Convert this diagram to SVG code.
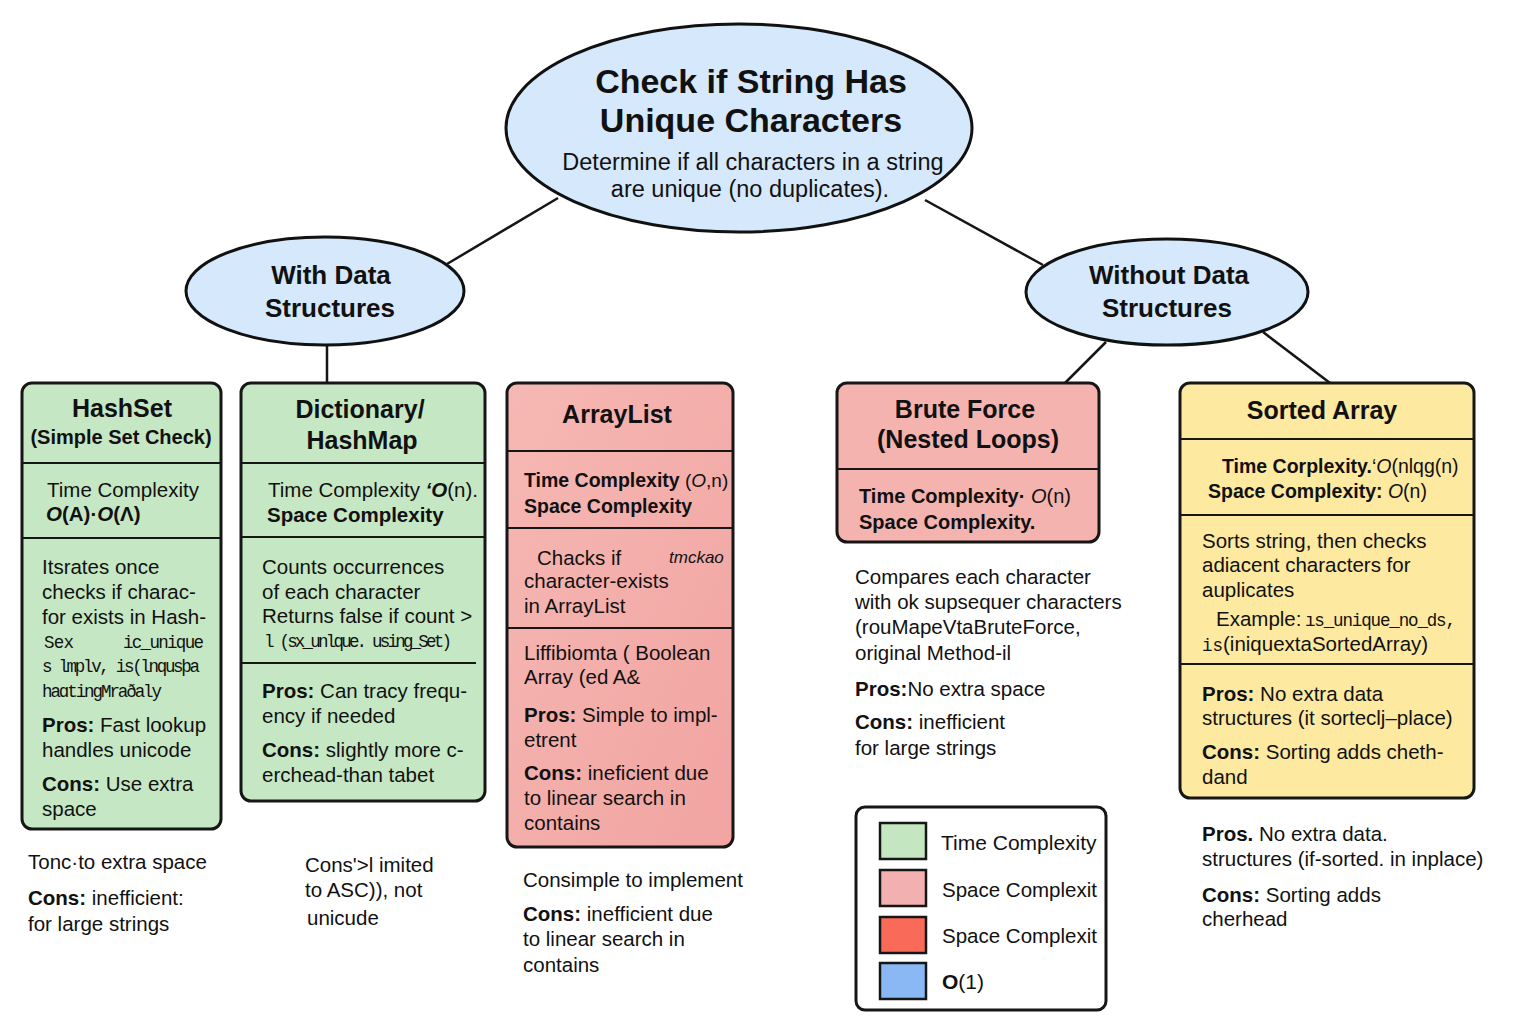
<svg xmlns="http://www.w3.org/2000/svg" width="1536" height="1024" viewBox="0 0 1536 1024">
<style>
text{font-family:"Liberation Sans",Arial,sans-serif;fill:#111;}
.t{font-size:20.5px}
.b{font-weight:bold}
.i{font-style:italic}
.m{font-family:"Liberation Mono","DejaVu Sans Mono",monospace;font-size:17.5px}
.h{font-size:25px;font-weight:bold;text-anchor:middle}
.box{stroke:#161616;stroke-width:3}
.dv{stroke:#161616;stroke-width:2}
.ell{fill:#d6e8fb;stroke:#111;stroke-width:3}
.con line{stroke:#161616;stroke-width:2.5}
.sw{stroke:#161616;stroke-width:2.5}
</style>
<defs>
<linearGradient id="pk" x1="0" y1="0" x2="1" y2="1">
<stop offset="0" stop-color="#f6b8b4"/>
<stop offset="1" stop-color="#f1a4a1"/>
</linearGradient>
</defs>
<rect width="1536" height="1024" fill="#ffffff"/>

<g id="connectors" class="con">
<line x1="558" y1="198" x2="447" y2="264"/>
<line x1="925" y1="200" x2="1043" y2="265"/>
<line x1="327" y1="345" x2="327" y2="383"/>
<line x1="1106" y1="342" x2="1065" y2="383"/>
<line x1="1263" y1="332" x2="1330" y2="383"/>
</g>

<g id="root">
<ellipse class="ell" cx="739" cy="128" rx="233" ry="104"/>
<text x="751" y="93" font-size="34" class="b" text-anchor="middle">Check if String Has</text>
<text x="751" y="132" font-size="34" class="b" text-anchor="middle">Unique Characters</text>
<text x="753" y="170" font-size="23.5" text-anchor="middle">Determine if all characters in a string</text>
<text x="750" y="197" font-size="23.5" text-anchor="middle">are unique (no duplicates).</text>
</g>

<g id="with-ds">
<ellipse class="ell" cx="325" cy="291" rx="139" ry="54"/>
<text x="331" y="284" font-size="26" class="b" text-anchor="middle">With Data</text>
<text x="330" y="317" font-size="26" class="b" text-anchor="middle">Structures</text>
</g>

<g id="without-ds">
<ellipse class="ell" cx="1167" cy="292" rx="141" ry="53"/>
<text x="1169" y="284" font-size="26" class="b" text-anchor="middle">Without Data</text>
<text x="1167" y="317" font-size="26" class="b" text-anchor="middle">Structures</text>
</g>

<g id="hashset">
<rect class="box" x="22" y="383" width="199" height="446" rx="10" fill="#c6e7c3"/>
<line class="dv" x1="23" y1="463" x2="220" y2="463"/>
<line class="dv" x1="23" y1="538" x2="220" y2="538"/>
<text x="122" y="417" class="h">HashSet</text>
<text x="121" y="444" font-size="20" class="b" text-anchor="middle">(Simple Set Check)</text>
<text x="47" y="497" class="t">Time Complexity</text>
<text x="46" y="521" class="t b"><tspan class="i">O</tspan>(A)·<tspan class="i">O</tspan>(Λ)</text>
<text x="42" y="574" class="t">Itsrates once</text>
<text x="42" y="599" class="t">checks if charac-</text>
<text x="42" y="624" class="t">for exists in Hash-</text>
<text x="44" y="648" class="m" textLength="30">Sex</text>
<text x="123" y="648" class="m" textLength="81">ic_unique</text>
<text x="42" y="672" class="m" textLength="158">s lmplv, is(lnqusþa</text>
<text x="42" y="697" class="m" textLength="120">haɑtingMraðaly</text>
<text x="42" y="732" class="t"><tspan class="b">Pros:</tspan> Fast lookup</text>
<text x="42" y="757" class="t">handles unicode</text>
<text x="42" y="791" class="t"><tspan class="b">Cons:</tspan> Use extra</text>
<text x="42" y="816" class="t">space</text>
</g>

<g id="dictionary">
<rect class="box" x="241" y="383" width="244" height="418" rx="10" fill="#c6e7c3"/>
<line class="dv" x1="242" y1="463" x2="484" y2="463"/>
<line class="dv" x1="242" y1="537" x2="484" y2="537"/>
<line class="dv" x1="242" y1="663" x2="476" y2="663"/>
<text x="360" y="418" class="h">Dictionary/</text>
<text x="362" y="449" class="h">HashMap</text>
<text x="268" y="497" class="t">Time Complexity <tspan class="b i">‘O</tspan>(n).</text>
<text x="267" y="522" class="t b" font-size="20">Space Complexity</text>
<text x="262" y="574" class="t">Counts occurrences</text>
<text x="262" y="599" class="t">of each character</text>
<text x="262" y="623" class="t">Returns false if count &gt;</text>
<text x="264" y="647" class="m" textLength="188">l (sx_unlque. using_Set)</text>
<text x="262" y="698" class="t"><tspan class="b">Pros:</tspan> Can tracy frequ-</text>
<text x="262" y="723" class="t">ency if needed</text>
<text x="262" y="757" class="t"><tspan class="b">Cons:</tspan> slightly more c-</text>
<text x="262" y="782" class="t">erchead-than tabet</text>
</g>

<g id="arraylist">
<rect class="box" x="507" y="383" width="226" height="464" rx="10" fill="url(#pk)"/>
<line class="dv" x1="508" y1="451" x2="732" y2="451"/>
<line class="dv" x1="508" y1="528" x2="732" y2="528"/>
<line class="dv" x1="508" y1="628" x2="732" y2="628"/>
<text x="617" y="423" class="h">ArrayList</text>
<text x="524" y="487" class="b" font-size="19.5">Time Complexity<tspan font-weight="normal" font-size="19"> (<tspan class="i">O</tspan>,n)</tspan></text>
<text x="524" y="513" class="b" font-size="19.5">Space Complexity</text>
<text x="537" y="565" class="t">Chacks if</text>
<text x="669" y="563" font-size="17" class="i">tmckao</text>
<text x="524" y="588" class="t">character-exists</text>
<text x="524" y="613" class="t">in ArrayList</text>
<text x="524" y="660" class="t">Liffibiomta ( Boolean</text>
<text x="524" y="684" class="t">Array (ed A&amp;</text>
<text x="524" y="722" class="t"><tspan class="b">Pros:</tspan> Simple to impl-</text>
<text x="524" y="747" class="t">etrent</text>
<text x="524" y="780" class="t"><tspan class="b">Cons:</tspan> ineficient due</text>
<text x="524" y="805" class="t">to linear search in</text>
<text x="524" y="830" class="t">contains</text>
</g>

<g id="brute-force">
<rect class="box" x="837" y="383" width="262" height="159" rx="10" fill="#f4b3ae"/>
<line class="dv" x1="838" y1="469" x2="1098" y2="469"/>
<text x="965" y="418" class="h">Brute Force</text>
<text x="968" y="448" class="h">(Nested Loops)</text>
<text x="859" y="503" class="b" font-size="20">Time Complexity· <tspan font-weight="normal"><tspan class="i">O</tspan>(n)</tspan></text>
<text x="859" y="529" class="b" font-size="20">Space Complexity.</text>
<text x="855" y="584" class="t">Compares each character</text>
<text x="855" y="609" class="t">with ok supsequer characters</text>
<text x="855" y="634" class="t">(rouMapeVtaBruteForce,</text>
<text x="855" y="660" class="t">original Method-il</text>
<text x="855" y="696" class="t"><tspan class="b">Pros:</tspan>No extra space</text>
<text x="855" y="729" class="t"><tspan class="b">Cons:</tspan> inefficient</text>
<text x="855" y="755" class="t">for large strings</text>
</g>

<g id="sorted-array">
<rect class="box" x="1180" y="383" width="294" height="415" rx="10" fill="#fde9a0"/>
<line class="dv" x1="1181" y1="439" x2="1473" y2="439"/>
<line class="dv" x1="1181" y1="515" x2="1473" y2="515"/>
<line class="dv" x1="1181" y1="664" x2="1473" y2="664"/>
<text x="1322" y="419" class="h">Sorted Array</text>
<text x="1222" y="473" class="b" font-size="19.5">Time Corplexity.<tspan font-weight="normal">‘<tspan class="i">O</tspan>(nlqg(n)</tspan></text>
<text x="1208" y="498" class="b" font-size="19.5">Space Complexity: <tspan font-weight="normal"><tspan class="i">O</tspan>(n)</tspan></text>
<text x="1202" y="548" class="t">Sorts string, then checks</text>
<text x="1202" y="572" class="t">adiacent characters for</text>
<text x="1202" y="597" class="t">auplicates</text>
<text x="1216" y="626" class="t">Example:</text>
<text x="1305" y="626" class="m" font-size="18" textLength="151">ıs_unique_no_ds,</text>
<text x="1202" y="651" class="t"><tspan class="m" font-size="18">is</tspan>(iniquextaSortedArray)</text>
<text x="1202" y="701" class="t"><tspan class="b">Pros:</tspan> No extra data</text>
<text x="1202" y="725" class="t">structures (it sorteclj–place)</text>
<text x="1202" y="759" class="t"><tspan class="b">Cons:</tspan> Sorting adds cheth-</text>
<text x="1202" y="784" class="t">dand</text>
</g>

<g id="notes-left">
<text x="28" y="869" class="t">Tonc·to extra space</text>
<text x="28" y="905" class="t"><tspan class="b">Cons:</tspan> inefficient:</text>
<text x="28" y="931" class="t">for large strings</text>
</g>
<g id="notes-dict">
<text x="305" y="872" class="t">Cons'&gt;l imited</text>
<text x="305" y="897" class="t">to ASC)), not</text>
<text x="307" y="925" class="t">unicude</text>
</g>
<g id="notes-arraylist">
<text x="523" y="887" class="t">Consimple to implement</text>
<text x="523" y="921" class="t"><tspan class="b">Cons:</tspan> inefficient due</text>
<text x="523" y="946" class="t">to linear search in</text>
<text x="523" y="972" class="t">contains</text>
</g>
<g id="notes-sorted">
<text x="1202" y="841" class="t"><tspan class="b">Pros.</tspan> No extra data.</text>
<text x="1202" y="866" class="t">structures (if-sorted. in inplace)</text>
<text x="1202" y="902" class="t"><tspan class="b">Cons:</tspan> Sorting adds</text>
<text x="1202" y="926" class="t">cherhead</text>
</g>

<g id="legend">
<rect class="box" x="856" y="807" width="250" height="203" rx="9" fill="#ffffff"/>
<rect class="sw" x="880" y="823" width="46" height="36" fill="#c4e6c0"/>
<rect class="sw" x="880" y="870" width="46" height="36" fill="#f3b0b0"/>
<rect class="sw" x="880" y="917" width="46" height="36" fill="#f96a58"/>
<rect class="sw" x="880" y="963" width="46" height="36" fill="#8ab8f5"/>
<text x="941" y="850" font-size="21">Time Complexity</text>
<text x="942" y="897" font-size="20.5">Space Complexit</text>
<text x="942" y="943" font-size="20.5">Space Complexit</text>
<text x="942" y="989" font-size="21"><tspan class="b">O</tspan>(1)</text>
</g>
</svg>
